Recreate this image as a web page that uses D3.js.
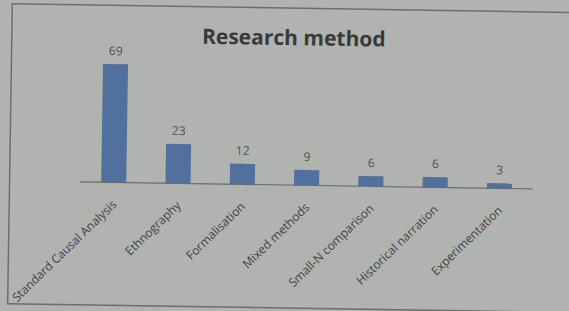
<!DOCTYPE html>
<html>
<head>
<meta charset="utf-8">
<style>
  body {
    margin: 0;
    background: #b0b2b0;
  }
  svg {
    display: block
  }
</style>
<script type="text/javascript" src="https://d3js.org/d3.v7.min.js"></script>
</head>
<body>
<svg id="chart"></svg>
<script type="text/javascript">
let categories = ['Standard Causal Analysis', 'Ethnography', 'Formalisation', 'Mixed methods',
                  'Small-N comparison', 'Historical narration', 'Experimentation']
let counts = [69, 23, 12, 9, 6, 6, 3]
let title = 'Research method'

let width = 569,
    height = 311,
    baseline = 185

let svg = d3.select('#chart')
    .attr('width', width)
    .attr('height', height)

svg.append('rect')
    .attr('width', width)
    .attr('height', height)
    .attr('fill', '#b1b3b1')

// the photo is a little tilted, so turn the whole chart a bit
let g = svg.append('g')
    .attr('transform', 'rotate(0.9,' + width / 2 + ',' + height / 2 + ')')

g.append('rect')
    .attr('x', 10)
    .attr('y', 8)
    .attr('width', 620)
    .attr('height', 300)
    .attr('fill', 'none')
    .attr('stroke', '#6c6e6c')
    .attr('stroke-width', 1.5)

let x = d3.scaleBand()
    .domain(categories)
    .range([82, 532])
    .paddingInner(0.61)
    .paddingOuter(0.305)

let y = d3.scaleLinear()
    .domain([0, 80])
    .range([baseline, baseline - 137])

g.append('text')
    .attr('x', 292)
    .attr('y', 45)
    .attr('text-anchor', 'middle')
    .attr('font-family', 'Open Sans')
    .attr('font-weight', 'bold')
    .attr('font-size', 21)
    .attr('fill', '#383a3a')
    .text(title)

g.selectAll('rect.bar')
    .data(counts)
    .enter()
    .append('rect')
    .attr('class', 'bar')
    .attr('x', function(d, i) { return x(categories[i]) })
    .attr('y', function(d) { return y(d) })
    .attr('width', x.bandwidth())
    .attr('height', function(d) { return y(0) - y(d) })
    .attr('fill', '#52709e')

g.selectAll('text.val')
    .data(counts)
    .enter()
    .append('text')
    .attr('class', 'val')
    .attr('x', function(d, i) { return x(categories[i]) + x.bandwidth() / 2 })
    .attr('y', function(d) { return y(d) - 9 })
    .attr('text-anchor', 'middle')
    .attr('font-family', 'Open Sans')
    .attr('font-size', 12)
    .attr('fill', '#505252')
    .text(function(d) { return d })

g.append('line')
    .attr('x1', 80)
    .attr('x2', 533)
    .attr('y1', baseline)
    .attr('y2', baseline)
    .attr('stroke', '#6a6c6a')
    .attr('stroke-width', 1.2)

g.selectAll('text.cat')
    .data(categories)
    .enter()
    .append('text')
    .attr('class', 'cat')
    .attr('transform', function(d) {
      return 'translate(' + (x(d) + x.bandwidth() / 2 + 1) + ',' + (baseline + 20) + ') rotate(-45)'
    })
    .attr('dy', '0.35em')
    .attr('text-anchor', 'end')
    .attr('font-family', 'Open Sans')
    .attr('font-size', 12)
    .attr('fill', '#414343')
    .text(function(d) { return d })
</script>
</body>
</html>
